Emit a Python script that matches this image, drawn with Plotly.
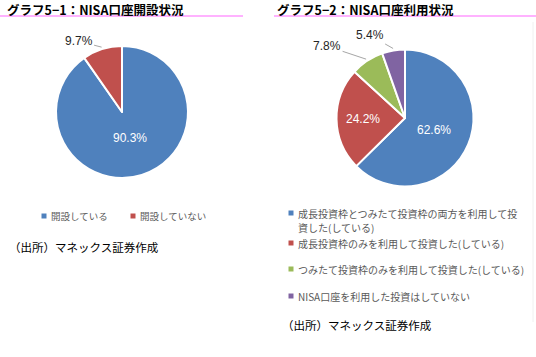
import math
import plotly.graph_objects as go

W, H = 536, 357

# ---- data ----
titles = ["グラフ5−1：NISA口座開設状況", "グラフ5−2：NISA口座利用状況"]
labels1 = ["開設している", "開設していない"]
values1 = [90.3, 9.7]
labels2 = [
    "成長投資枠とつみたて投資枠の両方を利用して投<br>資した(している)",
    "成長投資枠のみを利用して投資した(している)",
    "つみたて投資枠のみを利用して投資した(している)",
    "NISA口座を利用した投資はしていない",
]
values2 = [62.6, 24.2, 7.8, 5.4]
source = "（出所）マネックス証券作成"

# ---- styles ----
colors = ["#4F81BD", "#C0504D", "#9BBB59", "#8064A2"]
num_font = "Liberation Sans, Arial, sans-serif"
jp_font = "Noto Sans CJK JP, sans-serif"

# pie geometry (pixels): center x, center y, radius
pies = [
    dict(cx=122, cy=112, r=66),
    dict(cx=405, cy=118, r=68.5),
]
# label placement style: radial factor for inside labels, or pixel offset for outside labels
label_style1 = [dict(kind="in", f=0.41), dict(kind="out", ax=-23, ay=-6)]
label_style2 = [
    dict(kind="in", f=0.46),
    dict(kind="in", f=0.61),
    dict(kind="out", ax=-39, ay=-13),
    dict(kind="out", ax=-23, ay=-13),
]


def P(x, y):
    return x / W, 1 - y / H


fig = go.Figure()
annotations = []
shapes = []

for k, (labs, vals, geo, lstyle) in enumerate(
    [(labels1, values1, pies[0], label_style1), (labels2, values2, pies[1], label_style2)]
):
    cx, cy, r = geo["cx"], geo["cy"], geo["r"]
    x0, y0 = P(cx - r, cy + r)
    x1, y1 = P(cx + r, cy - r)
    fig.add_trace(
        go.Pie(
            labels=labs,
            values=vals,
            sort=False,
            direction="clockwise",
            rotation=0,
            marker=dict(colors=colors[: len(vals)], line=dict(color="white", width=2)),
            textinfo="none",
            hoverinfo="label+percent",
            showlegend=False,
            domain=dict(x=[x0, x1], y=[y0, y1]),
        )
    )
    total = sum(vals)
    cum = 0.0
    for v, st in zip(vals, lstyle):
        mid = (cum + v / 2) / total * 2 * math.pi
        cum += v
        txt = f"{v:.1f}%"
        if st["kind"] == "in":
            d = r * st["f"]
            px, py = cx + d * math.sin(mid), cy - d * math.cos(mid)
            ax_, ay_ = P(px, py)
            annotations.append(
                dict(x=ax_, y=ay_, xref="paper", yref="paper", text=txt, showarrow=False,
                     xanchor="center", yanchor="middle",
                     font=dict(family=num_font, size=12, color="white"))
            )
        else:
            d = r * 1.03
            px, py = cx + d * math.sin(mid), cy - d * math.cos(mid)
            ax_, ay_ = P(px, py)
            annotations.append(
                dict(x=ax_, y=ay_, xref="paper", yref="paper", text=txt, showarrow=True,
                     arrowhead=0, arrowwidth=1, arrowcolor="#A6A6A6", standoff=0,
                     ax=st["ax"], ay=st["ay"], xanchor="center", yanchor="middle",
                     font=dict(family=num_font, size=12, color="#262626"))
            )

# ---- titles with pink rules ----
title_pos = [(5, 9), (275, 9)]
rule_pos = [(0, 243), (274, 536)]
for t, (tx, ty), (rx0, rx1) in zip(titles, title_pos, rule_pos):
    x, y = P(tx, ty)
    annotations.append(
        dict(x=x, y=y, xref="paper", yref="paper", text=f"<b>{t}</b>", showarrow=False,
             xanchor="left", yanchor="middle",
             font=dict(family=jp_font, size=12.5, color="black"))
    )
    a0, b = P(rx0, 16)
    a1, _ = P(rx1, 16)
    shapes.append(dict(type="line", xref="paper", yref="paper", x0=a0, x1=a1, y0=b, y1=b,
                       line=dict(color="#FF99FF", width=1.5)))


# ---- manual legends ----
def legend_item(sx, sy, color, text, tx, size, line_h=14.5):
    s = 2.5
    a0, b0 = P(sx - s, sy + s)
    a1, b1 = P(sx + s, sy - s)
    shapes.append(dict(type="rect", xref="paper", yref="paper", x0=a0, x1=a1, y0=b0, y1=b1,
                       fillcolor=color, line=dict(width=0)))
    for i, line in enumerate(text.split("<br>")):
        x, y = P(tx, sy + i * line_h)
        annotations.append(
            dict(x=x, y=y, xref="paper", yref="paper", text=line, showarrow=False,
                 xanchor="left", yanchor="middle", borderpad=0,
                 font=dict(family=jp_font, size=size, color="#595959"))
        )


legend1_x = [44, 133]
for lab, c, sx in zip(labels1, colors, legend1_x):
    legend_item(sx, 216, c, lab, sx + 6, 9.5)

legend2_y = [213, 243, 269, 296]
for lab, c, sy in zip(labels2, colors, legend2_y):
    legend_item(291, sy, c, lab, 297, 10)

# ---- sources ----
for (sx, sy) in [(7, 247), (280, 325)]:
    x, y = P(sx, sy)
    annotations.append(
        dict(x=x, y=y, xref="paper", yref="paper", text=source, showarrow=False,
             xanchor="left", yanchor="middle",
             font=dict(family=jp_font, size=11.5, color="black"))
    )

# faint chart border on the right
bx0, by0 = P(533, 22)
_, by1 = P(533, 322)
shapes.append(dict(type="line", xref="paper", yref="paper", x0=bx0, x1=bx0, y0=by0, y1=by1,
                   line=dict(color="#F0F0F0", width=1)))

fig.update_layout(
    width=W,
    height=H,
    margin=dict(l=0, r=0, t=0, b=0),
    paper_bgcolor="white",
    plot_bgcolor="white",
    annotations=annotations,
    shapes=shapes,
)

fig.write_html(
    "out.html",
    config={"displayModeBar": False},
    post_script="document.body.style.margin='0';document.body.style.overflow='hidden';",
)
